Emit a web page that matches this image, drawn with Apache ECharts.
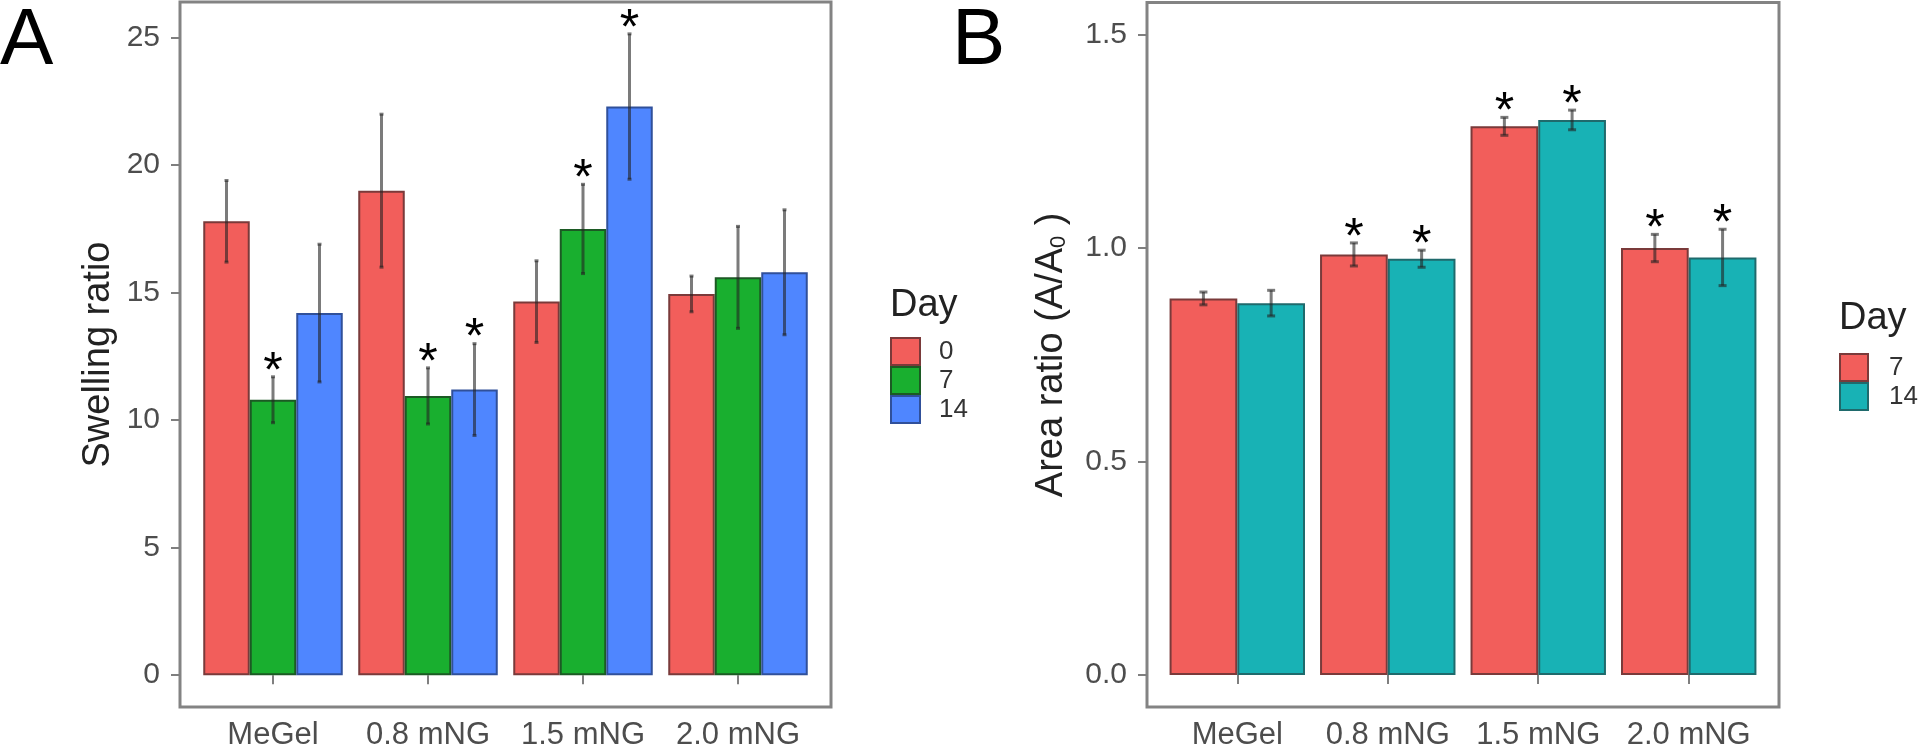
<!DOCTYPE html>
<html>
<head>
<meta charset="UTF-8">
<title>Swelling ratio / Area ratio</title>
<script src="https://cdn.jsdelivr.net/npm/echarts@6.0.0/dist/echarts.min.js"></script>
<style>
  html, body { margin: 0; padding: 0; background: #fff; }
  #chart { width: 1923px; height: 752px; }
</style>
</head>
<body>
<div id="chart"></div>
<script>
// ---- data ----
const groups = ['MeGel', '0.8 mNG', '1.5 mNG', '2.0 mNG'];

// panel A: swelling ratio
const swell0 = [17.8, 19.0, 14.65, 14.95];
const swell0Err = [1.6, 3.0, 1.6, 0.7];
const swell7 = [10.8, 10.95, 17.5, 15.6];
const swell7Err = [0.9, 1.1, 1.75, 2.0];
const swell14 = [14.2, 11.2, 22.3, 15.8];
const swell14Err = [2.7, 1.8, 2.85, 2.45];
const swell0Star = [0, 0, 0, 0];
const swell7Star = [1, 1, 1, 0];
const swell14Star = [0, 1, 1, 0];
const swellTicks = [0, 5, 10, 15, 20, 25];

// panel B: area ratio
const area7 = [0.882, 0.985, 1.285, 1.0];
const area7Err = [0.015, 0.027, 0.021, 0.032];
const area14 = [0.871, 0.975, 1.30, 0.978];
const area14Err = [0.03, 0.02, 0.023, 0.066];
const area7Star = [0, 1, 1, 1];
const area14Star = [0, 1, 1, 1];
const areaTicks = [0, 0.5, 1.0, 1.5];

const RED = '#f25e5b', GREEN = '#19af2f', BLUE = '#4f86ff', TEAL = '#18b2b5';
const FONT = 'Liberation Sans';

// ggplot-like dodge: group width 0.9
function dodge(i, n) { return (i - (n - 1) / 2) * 0.9 / n; }

function barSeries(name, vals, color, border, g) {
  return {
    name: name, type: 'bar', xAxisIndex: g, yAxisIndex: g,
    barGap: '0%', barCategoryGap: '10%',
    data: vals.map((v, k) => [k + 1, v]),
    itemStyle: { color: color, borderColor: border, borderWidth: 2 },
    z: 2
  };
}

function errSeries(vals, errs, i, n, g, cap) {
  return {
    type: 'custom', xAxisIndex: g, yAxisIndex: g, silent: true, z: 4,
    encode: { x: 0, y: [1, 2] },
    data: vals.map((v, k) => [k + 1 + dodge(i, n), v - errs[k], v + errs[k]]),
    renderItem: function (params, api) {
      const x = api.value(0);
      const top = api.coord([x, api.value(2)]);
      const bot = api.coord([x, api.value(1)]);
      const st = { stroke: 'rgba(35,35,35,0.6)', lineWidth: 3 };
      return {
        type: 'group', children: [
          { type: 'line', shape: { x1: top[0], y1: top[1], x2: bot[0], y2: bot[1] }, style: st },
          { type: 'line', shape: { x1: top[0] - cap, y1: top[1], x2: top[0] + cap, y2: top[1] }, style: st },
          { type: 'line', shape: { x1: bot[0] - cap, y1: bot[1], x2: bot[0] + cap, y2: bot[1] }, style: st }
        ]
      };
    }
  };
}

function starSeries(vals, errs, flags, i, n, g) {
  const pts = [];
  vals.forEach((v, k) => { if (flags[k]) pts.push([k + 1 + dodge(i, n), v + errs[k]]); });
  return {
    type: 'custom', xAxisIndex: g, yAxisIndex: g, silent: true, z: 5,
    encode: { x: 0, y: 1 },
    data: pts,
    renderItem: function (params, api) {
      const p = api.coord([api.value(0), api.value(1)]);
      return {
        type: 'text', x: p[0], y: p[1] + 21,
        style: { text: '*', fontSize: 50, fontFamily: FONT, fill: '#000', align: 'center', verticalAlign: 'bottom' }
      };
    }
  };
}

function xAxis(g) {
  return {
    gridIndex: g, type: 'value', min: 0.4, max: 4.6,
    splitLine: { show: false }, axisLine: { show: false },
    axisTick: { show: true, length: 9, customValues: [1, 2, 3, 4], lineStyle: { color: '#7f7f7f', width: 2 } },
    axisLabel: {
      customValues: [1, 2, 3, 4], margin: 13, fontSize: 31, fontFamily: FONT, color: '#4d4d4d',
      formatter: v => groups[v - 1]
    }
  };
}

function yAxis(g, min, max, ticks, name, fmt, gap) {
  return {
    gridIndex: g, type: 'value', min: min, max: max,
    splitLine: { show: false }, axisLine: { show: false },
    axisTick: { show: true, length: 9, customValues: ticks, lineStyle: { color: '#7f7f7f', width: 2 } },
    axisLabel: { customValues: ticks, margin: 20, fontSize: 30, fontFamily: FONT, color: '#4d4d4d', formatter: fmt },
    name: name, nameLocation: 'middle', nameGap: gap,
    nameTextStyle: { fontSize: 38, fontFamily: FONT, color: '#222', rich: { sub: { fontSize: 22, padding: [14, 0, 0, 0], fontFamily: FONT, color: '#222' } } }
  };
}

const chart = echarts.init(document.getElementById('chart'), null, { renderer: 'canvas' });

const option = {
  backgroundColor: '#fff',
  animation: false,
  title: [
    { text: 'A', left: 0, top: 2, padding: 0, textStyle: { fontSize: 80, fontWeight: 'normal', color: '#000', fontFamily: FONT } },
    { text: 'B', left: 952, top: 2, padding: 0, textStyle: { fontSize: 80, fontWeight: 'normal', color: '#000', fontFamily: FONT } },
    { text: 'Day', left: 890, top: 287, padding: 0, textStyle: { fontSize: 38, fontWeight: 'normal', color: '#222', fontFamily: FONT } },
    { text: 'Day', left: 1839, top: 300, padding: 0, textStyle: { fontSize: 38, fontWeight: 'normal', color: '#222', fontFamily: FONT } }
  ],
  legend: [
    {
      data: ['A:0', 'A:7', 'A:14'], left: 890, top: 337, orient: 'vertical', padding: 0,
      icon: 'rect', itemWidth: 29, itemHeight: 27, itemGap: 0, selectedMode: false,
      formatter: n => n.split(':')[1],
      textStyle: { fontSize: 26, fontFamily: FONT, color: '#333', padding: [0, 0, 0, 14] }
    },
    {
      data: ['B:7', 'B:14'], left: 1839, top: 353, orient: 'vertical', padding: 0,
      icon: 'rect', itemWidth: 28, itemHeight: 27, itemGap: 0, selectedMode: false,
      formatter: n => n.split(':')[1],
      textStyle: { fontSize: 26, fontFamily: FONT, color: '#333', padding: [0, 0, 0, 16] }
    }
  ],
  grid: [
    { left: 180, top: 2, width: 651, height: 705, show: true, borderColor: '#838383', borderWidth: 3, backgroundColor: '#fff' },
    { left: 1147, top: 2.5, width: 632, height: 704.6, show: true, borderColor: '#838383', borderWidth: 3, backgroundColor: '#fff' }
  ],
  xAxis: [xAxis(0), xAxis(1)],
  yAxis: [
    yAxis(0, -1.25, 26.4, swellTicks, 'Swelling ratio', v => String(v), 62),
    yAxis(1, -0.075, 1.575, areaTicks, 'Area ratio (A/A{sub|0} )', v => v.toFixed(1), 76)
  ],
  series: [
    barSeries('A:0', swell0, RED, '#7a3a3a', 0),
    barSeries('A:7', swell7, GREEN, '#1c5a24', 0),
    barSeries('A:14', swell14, BLUE, '#30509a', 0),
    barSeries('B:7', area7, RED, '#7a3a3a', 1),
    barSeries('B:14', area14, TEAL, '#1f6a6c', 1),
    errSeries(swell0, swell0Err, 0, 3, 0, 2),
    errSeries(swell7, swell7Err, 1, 3, 0, 2),
    errSeries(swell14, swell14Err, 2, 3, 0, 2),
    errSeries(area7, area7Err, 0, 2, 1, 4),
    errSeries(area14, area14Err, 1, 2, 1, 4),
    starSeries(swell0, swell0Err, swell0Star, 0, 3, 0),
    starSeries(swell7, swell7Err, swell7Star, 1, 3, 0),
    starSeries(swell14, swell14Err, swell14Star, 2, 3, 0),
    starSeries(area7, area7Err, area7Star, 0, 2, 1),
    starSeries(area14, area14Err, area14Star, 1, 2, 1)
  ]
};

chart.setOption(option);
</script>
</body>
</html>
